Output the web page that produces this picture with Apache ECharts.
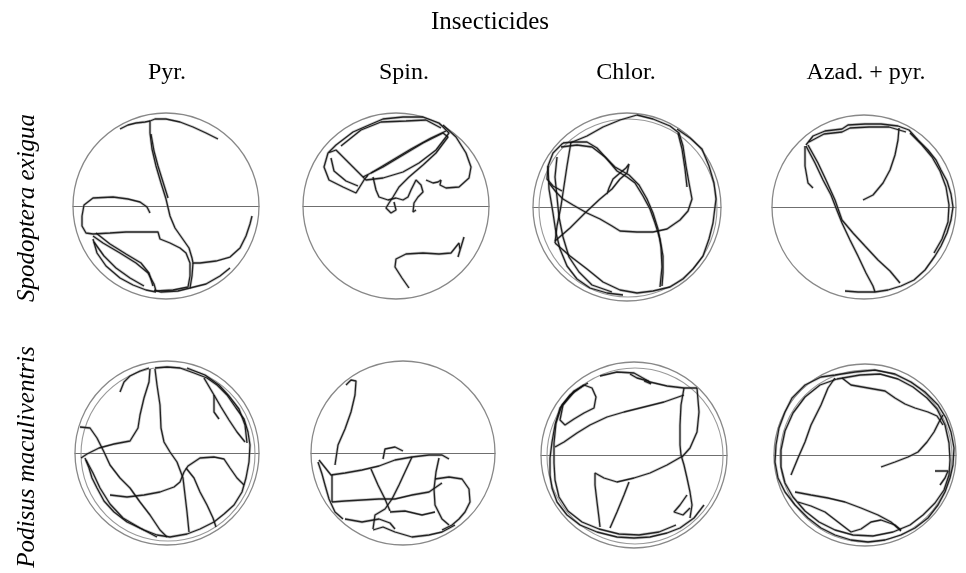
<!DOCTYPE html>
<html><head><meta charset="utf-8">
<script src="https://cdn.jsdelivr.net/npm/echarts@6/dist/echarts.min.js"></script>
<style>html,body{margin:0;padding:0;background:#fff}#c{width:966px;height:573px}</style>
</head><body><div id="c"></div>
<script>
// ---------- DATA ----------
const chartTitle = 'Insecticides';
const insecticides = ['Pyr.', 'Spin.', 'Chlor.', 'Azad. + pyr.'];
const species = ['Spodoptera exigua', 'Podisus maculiventris'];

// Walking tracks: [x, y] offsets from the arena centre (y downward), arena radius ~93
const tracksSpodopteraPyr = [
  [[52,-67],[40,-73],[27,-79],[14,-84],[0,-87],[-11,-87],[-16,-85],[-16,-73],[-14,-57],[-10,-40],[-5,-23],[0,-7],[4,10],[9,22],[16,32],[23,42],[26,52],[27,57],[34,57],[50,55],[64,51],[74,42],[80,30],[84,18],[86,10]],
  [[27,57],[26,70],[24,82],[12,85],[-5,86],[-12,84]],
  [[-46,-77],[-38,-81],[-30,-83],[-21,-84],[-16,-85]],
  [[-16,7],[-19,1],[-26,-4],[-38,-7],[-53,-9],[-73,-8],[-82,-1],[-84,10],[-84,20],[-80,27],[-73,28],[-56,27],[-40,26],[-23,26],[-8,26],[-6,33],[4,37],[14,42],[20,47],[24,57],[24,70],[22,81],[7,84],[-10,85],[-12,78],[-18,67],[-30,57],[-46,47],[-63,37],[-73,30]],
  [[-73,33],[-69,47],[-60,60],[-46,72],[-33,79],[-20,84],[-10,86]],
  [[-70,27],[-56,38],[-40,48],[-25,57],[-17,67],[-13,80]],
  [[24,82],[40,78],[54,70],[64,62]],
  [[-72,36],[-62,50],[-50,62],[-36,72],[-22,80]],
  [[-15,-72],[-12,-55],[-8,-40],[-3,-24],[2,-8]]
];
const tracksSpodopteraSpin = [
  [[-68,-53],[-60,-61],[-43,-74],[-27,-81],[-13,-87],[7,-89],[27,-89],[43,-83],[53,-73],[40,-56],[23,-43],[7,-34],[-13,-28],[-30,-26],[-40,-36],[-50,-46],[-60,-56],[-68,-53],[-72,-39],[-67,-26],[-53,-19],[-40,-13],[-32,-26],[-28,-31]],
  [[-33,-29],[-13,-39],[7,-51],[27,-63],[47,-73],[52,-69],[40,-53],[27,-41],[13,-29],[3,-19],[-3,-9],[-7,-3],[-10,2],[-5,7],[0,4],[-2,-4]],
  [[-23,-29],[-20,-16],[-17,-9],[-8,-6],[0,-8],[7,-6],[12,-9],[15,-16],[20,-26],[25,-21],[27,-14],[22,-9],[18,-3],[17,6],[20,4]],
  [[47,-81],[60,-69],[70,-53],[75,-39],[73,-28],[63,-19],[50,-18],[44,-21],[45,-26],[42,-24],[37,-23],[30,-26]],
  [[13,82],[6,72],[-1,61],[0,53],[10,48],[27,47],[43,48],[55,47],[59,42],[63,37],[64,44],[62,51],[65,41],[68,31]],
  [[-25,-33],[-5,-45],[15,-57],[35,-68],[50,-75]],
  [[-65,-48],[-62,-35],[-50,-25],[-38,-20]],
  [[-55,-60],[-35,-76],[-15,-84],[10,-85],[30,-86],[45,-78]]
];
const tracksSpodopteraChlor = [
  [[-64,-64],[-54,-65],[-40,-65],[-30,-59],[-20,-48],[-10,-36],[0,-30],[8,-24],[16,-11],[23,2],[28,16],[33,32],[36,49],[36,66],[35,79]],
  [[-57,-64],[-40,-71],[-24,-80],[-7,-87],[10,-92],[26,-88],[43,-81],[52,-74],[56,-61],[59,-41],[62,-24],[65,-8],[61,4],[53,13],[40,22],[26,25],[10,25],[-7,24],[-15,19],[-27,12],[-40,6],[-54,-2],[-64,-8],[-71,-15],[-78,-24]],
  [[-56,-65],[-60,-41],[-63,-21],[-66,-1],[-70,19],[-72,36]],
  [[-72,36],[-57,49],[-40,62],[-24,75],[-7,83],[10,86],[26,84],[43,80],[56,72],[66,62],[76,49],[82,32],[86,16],[89,-8],[87,-24],[82,-41],[75,-58],[63,-69],[50,-78]],
  [[-79,-41],[-78,-18],[-74,6],[-71,26],[-67,42],[-60,59],[-50,72],[-37,81],[-20,86],[-4,88]],
  [[-72,34],[-57,21],[-42,6],[-27,-8],[-15,-18],[-7,-28],[0,-34],[2,-43],[-1,-39],[-7,-34],[-14,-28],[-18,-19],[-20,-13]],
  [[-64,-64],[-74,-54],[-79,-41],[-80,-28],[-74,-21],[-65,-16]],
  [[51,-74],[55,-58],[58,-38],[60,-20]],
  [[-66,-60],[-50,-62],[-35,-60],[-22,-50],[-12,-40],[2,-32],[12,-22],[20,-8],[26,6],[31,22],[34,40],[35,60],[33,80]],
  [[-70,-50],[-72,-30],[-70,-10],[-68,10],[-64,30],[-58,50],[-48,65],[-35,78],[-15,85]]
];
const tracksSpodopteraAzad = [
  [[-58,-62],[-51,-71],[-39,-76],[-22,-78],[-16,-82],[1,-83],[17,-83],[34,-81],[45,-77],[54,-67],[64,-57],[72,-47],[77,-37],[83,-26],[87,-13],[89,0],[87,13],[83,26],[77,39],[71,49],[61,63],[50,73],[37,79],[24,83],[11,85],[-6,85],[-19,84]],
  [[-58,-61],[-49,-44],[-41,-27],[-33,-12],[-28,1],[-22,16],[-14,33],[-6,49],[2,66],[9,79],[11,85]],
  [[-56,-62],[-46,-44],[-38,-27],[-29,-7],[-22,13],[-11,26],[1,39],[14,53],[26,64],[36,76]],
  [[-1,-7],[9,-12],[19,-24],[26,-37],[31,-52],[34,-67],[35,-79]],
  [[-59,-61],[-59,-41],[-56,-24],[-51,-19]],
  [[-55,-65],[-40,-73],[-22,-75],[-14,-79],[5,-80],[25,-80],[42,-75]],
  [[46,-74],[58,-62],[68,-50],[76,-36],[82,-20],[85,-2],[84,15],[78,32],[70,46]]
];
const tracksPodisusPyr = [
  [[-47,-61],[-43,-71],[-37,-77],[-27,-82],[-18,-85]],
  [[-17,-84],[-18,-71],[-23,-55],[-27,-38],[-29,-25],[-37,-12],[-53,-9],[-68,-5],[-80,1],[-86,5]],
  [[-12,-84],[-10,-68],[-7,-48],[-6,-25],[-3,-11],[3,-1],[10,9],[16,25],[18,42],[20,59],[22,79]],
  [[-12,-85],[0,-86],[13,-85],[27,-80],[40,-75],[50,-68],[60,-58],[69,-45],[77,-34],[81,-21],[83,-8],[82,9],[79,25],[75,39],[67,52],[57,61],[47,69],[33,76],[20,81],[3,84],[-10,82],[-23,77],[-40,69],[-53,59],[-63,48],[-70,35],[-75,25],[-78,15],[-82,5]],
  [[-87,-26],[-77,-25],[-70,-15],[-63,-1],[-57,12],[-47,25],[-37,35],[-27,49],[-17,62],[-7,77],[0,84]],
  [[-57,42],[-40,44],[-23,42],[-7,39],[7,34],[13,29],[17,19],[21,13],[27,9],[33,5],[47,4],[57,6],[63,15],[70,25],[77,32]],
  [[19,15],[27,25],[33,39],[40,52],[46,65],[49,74]],
  [[37,-75],[47,-58],[54,-46],[62,-33],[70,-21],[78,-11]],
  [[47,-58],[47,-41],[52,-34]],
  [[-81,7],[-74,20],[-67,35],[-57,51],[-44,65],[-27,75],[-10,84]],
  [[20,-85],[38,-78],[52,-68],[62,-57],[72,-44],[78,-28],[80,-10]]
];
const tracksPodisusSpin = [
  [[-68,12],[-65,-8],[-58,-24],[-52,-41],[-48,-58],[-47,-72],[-52,-73],[-57,-68]],
  [[-84,7],[-72,22],[-58,20],[-41,17],[-24,13],[-8,7],[9,4],[26,2],[39,2],[46,6]],
  [[-20,6],[-18,-4],[-8,-6],[0,-2]],
  [[-71,49],[-58,48],[-41,47],[-24,46],[-8,46],[9,42],[26,39],[39,30]],
  [[-32,16],[-25,32],[-18,46],[-13,58]],
  [[9,4],[2,19],[-4,32],[-11,46],[-18,56],[-28,62],[-30,76]],
  [[36,5],[33,19],[31,36],[32,52],[39,66],[46,72]],
  [[32,26],[46,24],[59,26],[66,36],[67,49],[62,59],[56,66],[49,72],[39,77]],
  [[-30,77],[-20,74],[-8,79],[9,84],[26,82],[39,79],[52,72]],
  [[-85,9],[-81,21],[-78,32],[-74,46],[-68,59],[-60,66]],
  [[-58,66],[-41,69],[-24,66],[-13,70],[-8,76]],
  [[-71,22],[-71,49]],
  [[-13,59],[2,58],[19,62],[32,59]]
];
const tracksPodisusChlor = [
  [[-4,-81],[3,-77],[14,-74],[17,-71],[10,-74]],
  [[-34,-79],[-17,-83],[0,-82],[16,-73],[33,-69],[50,-67],[63,-67]],
  [[50,-67],[47,-50],[46,-30],[46,-10],[47,0],[50,10],[53,23],[56,37],[58,50],[56,63]],
  [[63,-67],[65,-43],[63,-23],[56,-7],[48,2]],
  [[50,-60],[30,-53],[10,-48],[-10,-43],[-27,-38],[-44,-30],[-57,-22],[-70,-13],[-79,-8]],
  [[47,2],[33,10],[16,18],[0,23],[-17,27],[-30,23],[-39,18],[-39,30],[-37,47],[-35,63],[-34,72]],
  [[-5,27],[-10,40],[-17,57],[-24,73]],
  [[-50,-70],[-64,-60],[-74,-47],[-79,-30],[-82,-13],[-84,3],[-84,20],[-82,33],[-77,47],[-67,60],[-54,70],[-37,77],[-17,82],[0,83],[16,82],[33,78],[46,73],[60,63],[70,50]],
  [[-50,-70],[-42,-67],[-38,-58],[-40,-47],[-50,-42],[-60,-36],[-69,-30],[-74,-35],[-71,-50],[-60,-63],[-50,-70]],
  [[53,40],[46,50],[40,57],[49,60],[56,53]],
  [[-46,-72],[-60,-64],[-72,-50],[-78,-32],[-80,-12],[-80,8],[-79,25],[-75,42],[-66,56],[-52,67],[-35,74],[-15,79],[5,80],[25,77],[42,70]]
];
const tracksPodisusAzad = [
  [[-74,20],[-67,3],[-60,-13],[-54,-30],[-44,-50],[-37,-67],[-30,-77]],
  [[-23,-77],[-14,-70],[3,-67],[20,-64],[30,-57],[40,-51],[50,-47],[63,-43],[72,-39],[78,-30]],
  [[16,12],[30,7],[43,2],[53,-3],[62,-13],[69,-23],[74,-33],[78,-40]],
  [[70,16],[83,16],[80,23],[75,30]],
  [[-30,-80],[-10,-83],[10,-85],[30,-81],[46,-73],[60,-63],[73,-50],[81,-37],[86,-23],[89,-7],[88,10],[85,23],[80,37],[73,50],[63,63],[50,73],[36,80],[20,85],[3,87],[-14,85],[-30,80],[-44,73],[-57,63],[-70,50],[-80,37],[-87,23],[-90,7],[-89,-10],[-86,-27],[-80,-43],[-73,-57],[-60,-70],[-44,-78],[-30,-80]],
  [[-70,37],[-54,40],[-37,43],[-20,47],[-4,53],[13,60],[26,67],[36,76]],
  [[-67,47],[-54,51],[-40,57],[-27,67],[-14,77],[-4,74],[6,67],[16,65],[30,70],[36,75]],
  [[-28,-76],[-5,-80],[15,-81],[33,-76],[48,-68],[62,-57],[72,-46],[80,-30],[84,-12],[85,5],[84,20],[79,35],[70,48],[58,60],[45,70],[28,77],[8,81],[-12,80],[-30,75],[-46,67],[-60,56],[-72,42],[-80,28],[-84,12],[-84,-5],[-80,-24],[-72,-42],[-60,-58],[-45,-70],[-28,-76]]
];

const arenaTracks = [
  tracksSpodopteraPyr, tracksSpodopteraSpin, tracksSpodopteraChlor, tracksSpodopteraAzad,
  tracksPodisusPyr, tracksPodisusSpin, tracksPodisusChlor, tracksPodisusAzad
];

// ---------- LAYOUT (pixels) ----------
const layout = {
  centers: [[166,206],[396,206],[627,207],[864,207],[167,453],[403,453],[634,455],[865,455]],
  radius:  [93,93,94,92,92,92,93,91],
  innerRing: [0,0,89,0,87,0,88,86],
  colX: [167,404,626,866],
  colY: 73,
  titleXY: [490,22],
  rowX: 27,
  rowY: [208,457]
};

const grids = [], xAxes = [], yAxes = [], series = [], graphics = [];
arenaTracks.forEach((tracks, i) => {
  const [cx, cy] = layout.centers[i];
  const R = layout.radius[i];
  grids.push({left: cx - R, top: cy - R, width: 2 * R, height: 2 * R, containLabel: false});
  xAxes.push({type:'value', gridIndex:i, min:-R, max:R, axisLine:{show:true, onZero:true, lineStyle:{color:'#6f6f6f', width:1.2}},
    axisTick:{show:false}, axisLabel:{show:false}, splitLine:{show:false}});
  yAxes.push({type:'value', gridIndex:i, min:-R, max:R, inverse:true, show:false, axisLine:{show:false}, splitLine:{show:false}});
  tracks.forEach(poly => {
    series.push({type:'line', xAxisIndex:i, yAxisIndex:i, data:poly, symbol:'none', silent:true, clip:false,
      lineStyle:{color:'#8a8a8a', width:2.8, opacity:0.45}, z:2});
    series.push({type:'line', xAxisIndex:i, yAxisIndex:i, data:poly, symbol:'none', silent:true, clip:false,
      lineStyle:{color:'#111', width:1.3, opacity:0.9}, z:3});
  });
  graphics.push({type:'circle', shape:{cx:cx, cy:cy, r:R}, style:{fill:'none', stroke:'#888', lineWidth:1.3}, z:1, silent:true});
  if (layout.innerRing[i]) {
    graphics.push({type:'circle', shape:{cx:cx+1, cy:cy+1, r:layout.innerRing[i]}, style:{fill:'none', stroke:'#999', lineWidth:1.1}, z:1, silent:true});
  }
});

const serif = '"Liberation Serif", "DejaVu Serif", serif';
graphics.push({type:'text', x:layout.titleXY[0], y:layout.titleXY[1], style:{text:chartTitle, fontFamily:serif, fontSize:25, fill:'#000', align:'center', verticalAlign:'middle', textAlign:'center', textVerticalAlign:'middle'}});
insecticides.forEach((t, j) => {
  graphics.push({type:'text', x:layout.colX[j], y:layout.colY, style:{text:t, fontFamily:serif, fontSize:24, fill:'#000', align:'center', verticalAlign:'middle', textAlign:'center', textVerticalAlign:'middle'}});
});
species.forEach((t, k) => {
  graphics.push({type:'text', x:layout.rowX, y:layout.rowY[k], rotation:Math.PI/2, style:{text:t, fontFamily:serif, fontStyle:'italic', fontSize:25, fill:'#000', align:'center', verticalAlign:'middle', textAlign:'center', textVerticalAlign:'middle'}});
});

const chart = echarts.init(document.getElementById('c'), null, {renderer:'canvas'});
chart.setOption({
  animation:false,
  backgroundColor:'#fff',
  grid:grids, xAxis:xAxes, yAxis:yAxes, series:series, graphic:graphics
});
</script></body></html>
